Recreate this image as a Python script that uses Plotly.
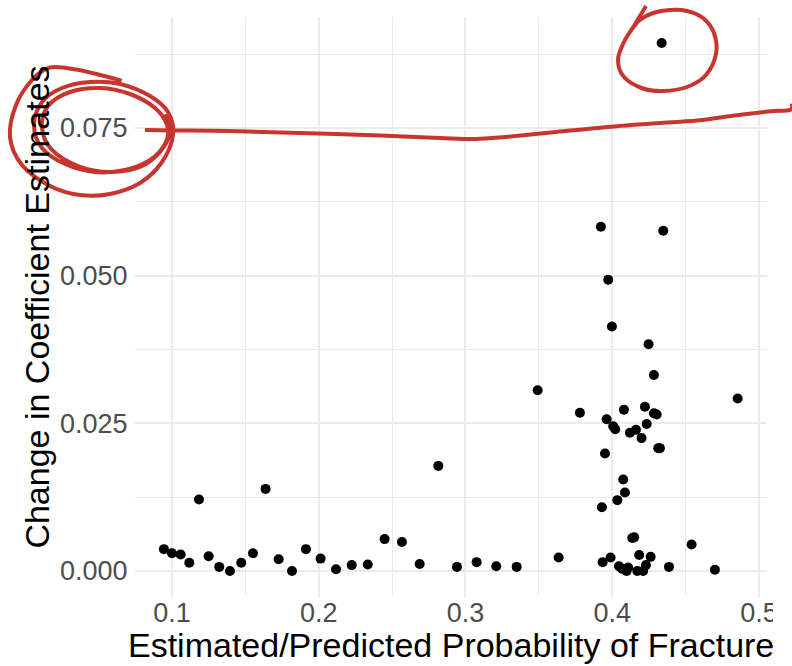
import plotly.graph_objects as go

# ---- data ----
prob = [0.0945, 0.1000, 0.1059, 0.1118, 0.1184, 0.1250, 0.1322, 0.1395, 0.1472, 0.1552,
        0.1638, 0.1727, 0.1818, 0.1913, 0.2013, 0.2118, 0.2225, 0.2334, 0.2449, 0.2567,
        0.2688, 0.2815, 0.2942, 0.3076, 0.3210, 0.3349, 0.3492, 0.3635, 0.3780, 0.3923,
        0.4348, 0.3973, 0.3998, 0.4248, 0.4284, 0.4855, 0.4080, 0.4223, 0.4284, 0.4303,
        0.3962, 0.4007, 0.4021, 0.4121, 0.4162, 0.4235, 0.4200, 0.4314, 0.4325, 0.3951,
        0.4075, 0.4087, 0.4035, 0.3930, 0.4137, 0.4150, 0.4541, 0.3935, 0.3989, 0.4046,
        0.4068, 0.4098, 0.4109, 0.4171, 0.4184, 0.4211, 0.4230, 0.4262, 0.4387, 0.4700,
        0.4337]
delta = [0.0037, 0.0030, 0.0028, 0.0014, 0.0121, 0.0025, 0.0007, 0.0000, 0.0014, 0.0030,
         0.0139, 0.0020, 0.0000, 0.0037, 0.0021, 0.0003, 0.0010, 0.0011, 0.0054, 0.0049,
         0.0012, 0.0178, 0.0007, 0.0015, 0.0008, 0.0007, 0.0306, 0.0023, 0.0268, 0.0583,
         0.0576, 0.0493, 0.0414, 0.0384, 0.0332, 0.0292, 0.0273, 0.0278, 0.0267, 0.0265,
         0.0257, 0.0245, 0.0240, 0.0234, 0.0239, 0.0249, 0.0225, 0.0208, 0.0208, 0.0199,
         0.0155, 0.0133, 0.0120, 0.0108, 0.0056, 0.0057, 0.0045, 0.0015, 0.0023, 0.0008,
         0.0004, 0.0000, 0.0006, 0.0000, 0.0027, 0.0000, 0.0010, 0.0024, 0.0007, 0.0002,
         0.0894]

x_ticks = [0.1, 0.2, 0.3, 0.4, 0.5]
x_tick_labels = ["0.1", "0.2", "0.3", "0.4", "0.5"]
y_ticks = [0.0, 0.025, 0.050, 0.075]
y_tick_labels = ["0.000", "0.025", "0.050", "0.075"]

x_title = "Estimated/Predicted Probability of Fracture"
y_title = "Change in Coefficient Estimates"

# ---- hand-drawn red annotation strokes (page pixel coordinates) ----
scribble_075 = [
    (121.7, 80.7), (100, 75), (76, 69.5), (50, 67.5),
    (32, 80), (16, 105), (10, 137), (22, 165), (50, 186), (80, 195), (110, 194),
    (140, 183), (162, 162), (173, 135), (168, 112), (150, 96), (120, 84), (90, 82), (62, 88),
    (42, 102), (34, 125), (42, 148), (65, 164), (95, 172), (125, 170), (150, 160),
    (166, 142), (167, 125), (155, 108), (130, 94), (100, 88), (70, 92),
    (48, 106), (42, 128), (52, 150), (78, 166), (110, 172), (140, 167), (160, 152),
    (170, 132), (166, 114),
]
underline = [
    (145, 130), (170, 130.5), (230, 131), (300, 133), (380, 135.5), (440, 138),
    (475, 139), (505, 137), (556, 132), (631, 125), (697, 120.5), (727, 116.5),
    (768, 111.5), (790, 110), (792, 104),
]
circle_top = [
    (646, 6), (640, 16), (634, 26), (624, 42), (618, 60), (624, 77), (643, 88.5),
    (663, 91), (687, 87), (706, 75), (716, 54), (714, 33), (703, 18), (687, 11),
    (670, 10), (653, 13), (640, 20), (632, 29),
]

W, H = 792, 666
ML, MR, MT, MB = 135, 25, 17, 69
PW, PH = W - ML - MR, H - MT - MB
CROP_X = 773  # the original chart image ends here; only the red ink goes further


def to_paper(p):
    return ((p[0] - ML) / PW, (H - MB - p[1]) / PH)


def smooth_path(pts):
    q = [to_paper(p) for p in pts]
    d = "M %.5f,%.5f" % q[0]
    n = len(q)
    for i in range(n - 1):
        p0 = q[i - 1] if i > 0 else q[i]
        p1 = q[i]
        p2 = q[i + 1]
        p3 = q[i + 2] if i + 2 < n else q[i + 1]
        c1 = (p1[0] + (p2[0] - p0[0]) / 6, p1[1] + (p2[1] - p0[1]) / 6)
        c2 = (p2[0] - (p3[0] - p1[0]) / 6, p2[1] - (p3[1] - p1[1]) / 6)
        d += " C %.5f,%.5f %.5f,%.5f %.5f,%.5f" % (c1[0], c1[1], c2[0], c2[1], p2[0], p2[1])
    return d


RED = "#C8352E"

fig = go.Figure()
fig.add_trace(go.Scatter(
    x=prob, y=delta, mode="markers",
    marker=dict(color="black", size=10, line=dict(width=0)),
    showlegend=False, cliponaxis=False,
))

# white cover for the cropped right edge of the original chart
cx0, _ = to_paper((CROP_X, 0))
cx1, _ = to_paper((W + 5, 0))
_, cy0 = to_paper((0, H + 5))
_, cy1 = to_paper((0, -5))
shapes = [dict(type="rect", xref="paper", yref="paper", x0=cx0, x1=cx1, y0=cy0, y1=cy1,
               fillcolor="white", line=dict(width=0), layer="above")]
for stroke in (scribble_075, underline, circle_top):
    shapes.append(dict(type="path", xref="paper", yref="paper", path=smooth_path(stroke),
                       line=dict(color=RED, width=4), layer="above"))

_, title_y = to_paper((0, 645))
annotations = [dict(text=x_title, xref="paper", yref="paper", x=0.5, y=title_y,
                    xanchor="center", yanchor="middle", showarrow=False,
                    font=dict(size=34, color="black"))]

grid_major = "#EBEBEB"
fig.update_layout(
    width=W, height=H,
    margin=dict(l=ML, r=MR, t=MT, b=MB, autoexpand=False),
    paper_bgcolor="white", plot_bgcolor="white",
    font=dict(family="Liberation Sans, Arial, sans-serif", color="black"),
    shapes=shapes,
    annotations=annotations,
    xaxis=dict(
        range=[0.0748, 0.5055], tickvals=x_ticks, ticktext=x_tick_labels,
        showgrid=True, gridcolor=grid_major, gridwidth=1.5, zeroline=False, showline=False,
        ticks="", ticklabelstandoff=-3,
        tickfont=dict(size=27, color="#4D4D4D"),
        minor=dict(tickvals=[0.05, 0.15, 0.25, 0.35, 0.45], showgrid=True,
                   gridcolor=grid_major, gridwidth=0.8, ticks=""),
        automargin=False,
    ),
    yaxis=dict(
        range=[-0.0044, 0.0938], tickvals=y_ticks, ticktext=y_tick_labels,
        showgrid=True, gridcolor=grid_major, gridwidth=1.5, zeroline=False, showline=False,
        ticks="outside", ticklen=1, tickcolor="rgba(0,0,0,0)",
        tickfont=dict(size=27, color="#4D4D4D"),
        minor=dict(tickvals=[0.0125, 0.0375, 0.0625, 0.0875], showgrid=True,
                   gridcolor=grid_major, gridwidth=0.8, ticks=""),
        title=dict(text=y_title, font=dict(size=34, color="black"), standoff=0),
        automargin=False,
    ),
)

fig.write_html("out.html")
